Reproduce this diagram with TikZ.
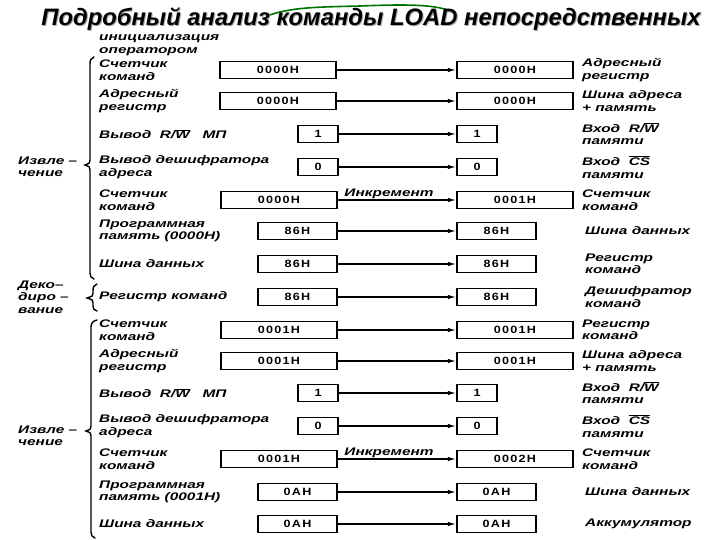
\documentclass[tikz,border=0pt]{standalone}
\usepackage{fontspec}
\setmainfont{Liberation Sans}
\newfontfamily\lblfont[FakeStretch=1.4]{Liberation Sans}
\newfontfamily\boxfnt[FakeStretch=1.2,LetterSpace=12]{Liberation Sans}
\usetikzlibrary{arrows.meta}
\newcommand\ovl[1]{$\overline{\hbox{#1}}$}
\begin{document}
\begin{tikzpicture}[x=1pt,y=-1pt,
  lbl/.style={font=\lblfont\bfseries\itshape\fontsize{11}{12.5}\selectfont, align=left, anchor=west, inner sep=0pt},
  reg/.style={draw, line width=1.4pt, minimum height=17pt, font=\boxfnt\bfseries\fontsize{10.5}{12}\selectfont, inner sep=0pt},
  wbox/.style={reg, minimum width=116pt},
  mbox/.style={reg, minimum width=79pt},
  sbox/.style={reg, minimum width=40pt},
  arr/.style={line width=1.4pt, -{Latex[length=8.5pt,width=4.5pt]}},
  brc/.style={line width=1.4pt, line cap=round},
  ttl/.style={font=\bfseries\itshape\fontsize{23.8}{28}\selectfont, inner sep=0pt}
]
\useasboundingbox (0,0) rectangle (720,540);
\fill[white] (0,0) rectangle (720,540);
% green decorative curve
\draw[line width=1.6pt, green!45!black] (267,16) .. controls (290,7) and (320,7) .. (360,6) .. controls (410,4) and (447,4) .. (457,16);
% title
\node[ttl, text=black!35] (ttlshadow) at (372,20) {Подробный анализ команды LOAD непосредственных};
\node[ttl] (title) at (371,19) {Подробный анализ команды LOAD непосредственных};

\node[lbl] (init) at (99,45) {инициализация\\оператором};

% row 1
\node[lbl] (t1) at (99,70) {Счетчик\\команд};
\node[wbox] (a1) at (278,70) {0000H};
\node[wbox] (b1) at (515,70) {0000H};
\node[lbl] (u1) at (582,70) {Адресный\\регистр};
\draw[arr] (a1) -- (b1);
% row 2
\node[lbl] (t2) at (99,101) {Адресный\\регистр};
\node[wbox] (a2) at (278,101) {0000H};
\node[wbox] (b2) at (515,101) {0000H};
\node[lbl] (u2) at (582,101) {Шина адреса\\+ память};
\draw[arr] (a2) -- (b2);
% row 3
\node[lbl] (t3) at (99,134) {Вывод\ \ R/\ovl{W}\ \ \ МП};
\node[sbox] (a3) at (318,134) {1};
\node[sbox] (b3) at (477,134) {1};
\node[lbl] (u3) at (582,134) {Вход\ \ R/\ovl{W}\\памяти};
\draw[arr] (a3) -- (b3);
% row 4
\node[lbl] (t4) at (99,167) {Вывод дешифратора\\адреса};
\node[sbox] (a4) at (318,167) {0};
\node[sbox] (b4) at (477,167) {0};
\node[lbl] (u4) at (582,167) {Вход\ \ \ovl{CS}\\памяти};
\draw[arr] (a4) -- (b4);
% row 5
\node[lbl] (t5) at (99,200) {Счетчик\\команд};
\node[wbox] (a5) at (279,200) {0000H};
\node[wbox] (b5) at (515,200) {0001H};
\node[lbl] (u5) at (582,200) {Счетчик\\команд};
\draw[arr] (a5) -- node[lbl, anchor=south, xshift=-8pt, yshift=1pt] (inc1) {Инкремент} (b5);
% row 6
\node[lbl] (t6) at (99,231) {Программная\\память (0000H)};
\node[mbox] (a6) at (297.5,231) {86H};
\node[mbox] (b6) at (496.5,231) {86H};
\node[lbl] (u6) at (585,231) {Шина данных};
\draw[arr] (a6) -- (b6);
% row 7
\node[lbl] (t7) at (99,264) {Шина данных};
\node[mbox] (a7) at (297.5,264) {86H};
\node[mbox] (b7) at (496.5,264) {86H};
\node[lbl] (u7) at (585,264) {Регистр\\команд};
\draw[arr] (a7) -- (b7);
% row 8
\node[lbl] (t8) at (99,297) {Регистр команд};
\node[mbox] (a8) at (297.5,297) {86H};
\node[mbox] (b8) at (496.5,297) {86H};
\node[lbl] (u8) at (585,297) {Дешифратор\\команд};
\draw[arr] (a8) -- (b8);
% row 9
\node[lbl] (t9) at (99,330) {Счетчик\\команд};
\node[wbox] (a9) at (279,330) {0001H};
\node[wbox] (b9) at (515,330) {0001H};
\node[lbl] (u9) at (582,330) {Регистр\\команд};
\draw[arr] (a9) -- (b9);
% row 10
\node[lbl] (t10) at (99,361) {Адресный\\регистр};
\node[wbox] (a10) at (279,361) {0001H};
\node[wbox] (b10) at (515,361) {0001H};
\node[lbl] (u10) at (582,361) {Шина адреса\\+ память};
\draw[arr] (a10) -- (b10);
% row 11
\node[lbl] (t11) at (99,393) {Вывод\ \ R/\ovl{W}\ \ \ МП};
\node[sbox] (a11) at (318,393) {1};
\node[sbox] (b11) at (477,393) {1};
\node[lbl] (u11) at (582,393) {Вход\ \ R/\ovl{W}\\памяти};
\draw[arr] (a11) -- (b11);
% row 12
\node[lbl] (t12) at (99,426) {Вывод дешифратора\\адреса};
\node[sbox] (a12) at (318,426) {0};
\node[sbox] (b12) at (477,426) {0};
\node[lbl] (u12) at (582,426) {Вход\ \ \ovl{CS}\\памяти};
\draw[arr] (a12) -- (b12);
% row 13
\node[lbl] (t13) at (99,459) {Счетчик\\команд};
\node[wbox] (a13) at (279,459) {0001H};
\node[wbox] (b13) at (515,459) {0002H};
\node[lbl] (u13) at (582,459) {Счетчик\\команд};
\draw[arr] (a13) -- node[lbl, anchor=south, xshift=-8pt, yshift=1pt] (inc2) {Инкремент} (b13);
% row 14
\node[lbl] (t14) at (99,492) {Программная\\память (0001H)};
\node[mbox] (a14) at (297.5,492) {0AH};
\node[mbox] (b14) at (496.5,492) {0AH};
\node[lbl] (u14) at (585,492) {Шина данных};
\draw[arr] (a14) -- (b14);
% row 15
\node[lbl] (t15) at (99,524) {Шина данных};
\node[mbox] (a15) at (297.5,524) {0AH};
\node[mbox] (b15) at (496.5,524) {0AH};
\node[lbl] (u15) at (585,524) {Аккумулятор};
\draw[arr] (a15) -- (b15);

% phase labels
\node[lbl] (ph1) at (18,167) {Извле –\\чение};
\node[lbl] (ph2) at (18,297) {Деко–\\диро –\\вание};
\node[lbl] (ph3) at (18,436) {Извле –\\чение};

% braces
\draw[brc] (94,57) .. controls (91,58) and (90,60) .. (90,64) -- (90,160) .. controls (90,163) .. (85,165) .. controls (90,167) .. (90,170) -- (90,273) .. controls (90,276) and (91,278) .. (94,279);
\draw[brc] (97,284) .. controls (94,285) and (93,287) .. (93,291) -- (93,293) .. controls (93,296) .. (87,298) .. controls (93,300) .. (93,303) -- (93,306) .. controls (93,309) and (94,310) .. (97,311);
\draw[brc] (97,320) .. controls (93,321) and (91,323) .. (91,327) -- (91,426) .. controls (91,429) .. (86,431) .. controls (91,433) .. (91,436) -- (91,532) .. controls (91,535) and (92,537) .. (95,538);
\end{tikzpicture}
\end{document}
